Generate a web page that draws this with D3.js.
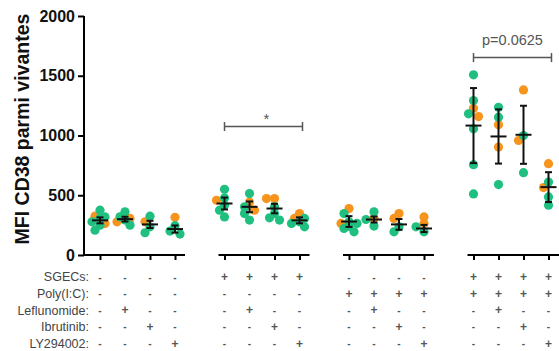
<!DOCTYPE html>
<html><head><meta charset="utf-8">
<script src="https://cdn.jsdelivr.net/npm/d3@7"></script>
<style>body{margin:0;background:#fff}svg{display:block;font-family:"Liberation Sans",Arial,sans-serif}</style>
</head><body><svg id="c" width="559" height="351"></svg>
<script>
// ---- data ----
const groupOf = [0,0,0,0,1,1,1,1,2,2,2,2,3,3,3,3];
const greenVals = [
  [375,306,319,250,208,278],
  [361,292,250,320],
  [325,186,236],
  [245,200,175],
  [550,478,417,375,319],
  [514,403,347,292],
  [403,347,311,292],
  [306,264,236,278],
  [347,278,264,222,194,240],
  [361,297,242],
  [236,194],
  [236,194],
  [1508,1292,1181,1056,756,511],
  [1236,1153,589],
  [1000,689],
  [611,486,417]
];
const orangeVals = [
  [325,264],
  [306,278],
  [278],
  [315],
  [458],
  [444,375],
  [472,472],
  [347,306],
  [389,264],
  [306],
  [347,306],
  [319,264],
  [1228,1158],
  [1089,903],
  [1381,958],
  [764,564]
];
const meanVals = [290,300,256,217,431,403,389,290,280,297,256,222,1083,992,1006,568];
const sdVals   = [25,20,30,30,50,45,40,25,45,25,45,30,314,227,243,125];
const yTicks = [0,500,1000,1500,2000];
const rowLabels = ["SGECs:","Poly(I:C):","Leflunomide:","Ibrutinib:","LY294002:"];
const rowSigns = [
  "----++++----++++",
  "--------++++++++",
  "-+---+---+---+--",
  "--+---+---+---+-",
  "---+---+---+---+"
];
const sigBrackets = [
  {from:4, to:7, value:1075, label:"*"},
  {from:12, to:15, value:1652, label:"p=0.0625"}
];
const GREEN = "#1fbf7f", ORANGE = "#f7941d";

// ---- scales ----
const svg = d3.select("#c");
const slot = k => k + groupOf[k]*0.98;
const x = d3.scaleLinear().domain([0, 17.94]).range([100, 548.5]);
const xc = k => x(slot(k));
const y = d3.scaleLinear().domain([0, 2000]).range([255, 16]);

// ---- y axis ----
const yAxis = svg.append("g").attr("transform","translate(84,0)")
  .call(d3.axisLeft(y).tickValues(yTicks).tickSize(6).tickPadding(3).tickFormat(d3.format("d")));
yAxis.select(".domain").attr("stroke","#000").attr("stroke-width",2).attr("d","M0,"+y(2000)+"V"+y(0));
yAxis.selectAll(".tick line").attr("stroke","#000").attr("stroke-width",2);
yAxis.selectAll(".tick text").attr("font-size",16).attr("font-weight","bold").attr("fill","#111")
  .attr("font-family","'Liberation Sans',Arial,sans-serif");

svg.append("text").attr("transform","translate(29,129) rotate(-90)")
  .attr("text-anchor","middle").attr("font-size",19.5).attr("font-weight","bold").attr("fill","#111")
  .text("MFI CD38 parmi vivantes");

// ---- x axis (broken) ----
const segs = d3.range(4).map(g => {
  const ks = d3.range(16).filter(k => groupOf[k] === g);
  return [g === 0 ? 84 : xc(ks[0]) - 6, g === 3 ? 559 : xc(ks[ks.length-1]) + 10, ks];
});
segs.forEach(([a,b,ks]) => {
  const ax = svg.append("g").attr("transform","translate(0,255)")
    .call(d3.axisBottom(x).tickValues(ks.map(slot)).tickSize(5).tickFormat(""));
  ax.select(".domain").attr("d","M"+a+",0H"+b).attr("stroke","#000").attr("stroke-width",2);
  ax.selectAll(".tick line").attr("stroke","#000").attr("stroke-width",2);
});

// ---- table under the axis ----
const rowY = r => 277 + r*16.6;
rowLabels.forEach((lab, r) => {
  svg.append("text").attr("x",89).attr("y",rowY(r)).attr("dy","0.35em")
    .attr("text-anchor","end").attr("font-size",12.5).attr("fill","#444").text(lab);
  svg.append("g").selectAll("text").data(rowSigns[r].split("")).join("text")
    .attr("x",(d,k)=>xc(k)).attr("y",rowY(r)).attr("dy","0.35em")
    .attr("text-anchor","middle").attr("font-size",d=>d==="+"?12:10)
    .attr("font-weight","bold").attr("fill","#555").text(d=>d);
});

// ---- points with simple dodge ----
const R = 4.6;
const pts = [];
d3.range(16).forEach(k => {
  const arr = orangeVals[k].map(v=>({v,c:ORANGE,o:0})).concat(greenVals[k].map(v=>({v,c:GREEN,o:1})));
  const placed = [];
  arr.slice().sort((a,b)=>b.v-a.v).forEach(p => {
    const py = y(p.v);
    const cands = [0,-5,5,-8,8];
    let best = 0, bestD = -1;
    for (const dx of cands) {
      const dmin = placed.length ? d3.min(placed, q => Math.hypot(q.dx-dx, q.py-py)) : 99;
      if (dmin >= 6.5) { best = dx; bestD = 99; break; }
      if (dmin > bestD) { bestD = dmin; best = dx; }
    }
    p.dx = best; p.py = py; p.k = k;
    placed.push(p);
  });
  pts.push(...arr);
});
pts.sort((a,b)=>a.o-b.o);
svg.append("g").selectAll("circle").data(pts).join("circle")
  .attr("cx",d=>xc(d.k)+d.dx).attr("cy",d=>d.py).attr("r",R).attr("fill",d=>d.c);

// ---- mean ± SD ----
const eb = svg.append("g").attr("stroke","#111").attr("stroke-width",2);
d3.range(16).forEach(k => {
  const cx = xc(k), m = meanVals[k], s = sdVals[k];
  eb.append("line").attr("x1",cx).attr("x2",cx).attr("y1",y(m+s)).attr("y2",y(m-s));
  eb.append("line").attr("x1",cx-3.5).attr("x2",cx+3.5).attr("y1",y(m+s)).attr("y2",y(m+s));
  eb.append("line").attr("x1",cx-3.5).attr("x2",cx+3.5).attr("y1",y(m-s)).attr("y2",y(m-s));
  eb.append("line").attr("x1",cx-8).attr("x2",cx+8).attr("y1",y(m)).attr("y2",y(m));
});

// ---- significance brackets ----
sigBrackets.forEach(b => {
  const x1 = xc(b.from), x2 = xc(b.to) + 3, yy = y(b.value);
  const g = svg.append("g").attr("stroke","#555").attr("stroke-width",1.5);
  g.append("line").attr("x1",x1).attr("x2",x2).attr("y1",yy).attr("y2",yy);
  g.append("line").attr("x1",x1).attr("x2",x1).attr("y1",yy-4.5).attr("y2",yy+4.5);
  g.append("line").attr("x1",x2).attr("x2",x2).attr("y1",yy-4.5).attr("y2",yy+4.5);
  const star = b.label === "*";
  svg.append("text").attr("x",(x1+x2)/2 + (star?3:0)).attr("y", star ? yy-3 : yy-13)
    .attr("text-anchor","middle").attr("font-size", star?15:14.5).attr("fill","#555").text(b.label);
});
</script></body></html>
